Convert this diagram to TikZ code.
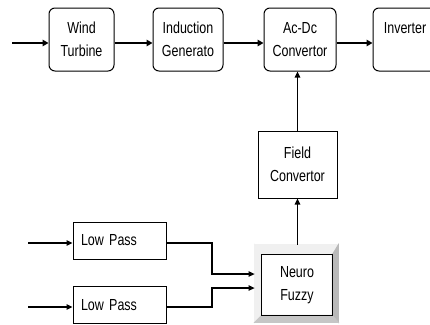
\documentclass[tikz,border=0pt]{standalone}
\usepackage{fontspec}
\setmainfont[FakeStretch=0.78]{Liberation Sans}
\usetikzlibrary{arrows.meta}
\begin{document}
\begin{tikzpicture}[x=1pt,y=-1pt,
  txt/.style={font=\fontsize{16}{23}\selectfont},
  rbox/.style={txt,draw,line width=1pt,rounded corners=6pt,align=center,inner sep=0pt},
  sbox/.style={txt,draw,line width=1pt,align=center,inner sep=0pt},
  thickarr/.style={line width=2.6pt,-{Triangle[length=6pt,width=6.5pt]}},
  midarr/.style={line width=1.8pt,-{Triangle[length=6pt,width=5.5pt]}},
  thinarr/.style={line width=1.2pt,-{Triangle[length=6pt,width=5.5pt]}},
  bevel/.style={draw,line width=0.8pt}]
\clip (0,0) rectangle (430,324);
% top row
\node[rbox,minimum width=65pt,minimum height=63pt] (wt) at (81.5,39.5) {Wind\\Turbine};
\node[rbox,minimum width=70pt,minimum height=63pt] (ig) at (188,39.5) {Induction\\Generato};
\node[rbox,minimum width=72pt,minimum height=63pt] (ad) at (300,39.5) {Ac-Dc\\Convertor};
\node[rbox,minimum width=64pt,minimum height=63pt] (inv) at (405,39.5) {Inverter\\\mbox{}};
\coordinate (in0) at (12,43);
\draw[thickarr] (in0) -- (in0 -| wt.west);
\draw[thickarr] (wt.east |- in0) -- (ig.west |- in0);
\draw[thickarr] (ig.east |- in0) -- (ad.west |- in0);
\draw[thickarr] (ad.east |- in0) -- (inv.west |- in0);
% field convertor
\node[sbox,minimum width=79pt,minimum height=67pt] (fc) at (297.5,164.5) {Field\\Convertor};
\draw[midarr] (fc.north) -- (fc.north |- ad.south);
% neuro fuzzy
\node[draw,line width=0.8pt,minimum width=83pt,minimum height=77pt,inner sep=0pt] (nfo) at (296.5,283.5) {};
\node[txt,align=center,minimum width=70pt,minimum height=60pt,inner sep=0pt] (nf) at (297,285) {Neuro\\Fuzzy};
\fill[gray!12,bevel] (nfo.north west) -- (nfo.north east) -- (nf.north east) -- (nf.north west) -- cycle;
\fill[gray!12,bevel] (nfo.north west) -- (nf.north west) -- (nf.south west) -- (nfo.south west) -- cycle;
\fill[gray!55,bevel] (nfo.north east) -- (nfo.south east) -- (nf.south east) -- (nf.north east) -- cycle;
\fill[gray!45,bevel] (nfo.south west) -- (nf.south west) -- (nf.south east) -- (nfo.south east) -- cycle;
\draw[line width=0.8pt] (nf.north west) rectangle (nf.south east);
\draw[midarr] (nfo.north -| fc.south) -- (fc.south);
% low pass filters
\node[sbox,minimum width=93pt,minimum height=37pt,text width=77pt,align=left] (lp1) at (119.5,240.5) {Low Pass};
\node[sbox,minimum width=93pt,minimum height=37pt,text width=77pt,align=left] (lp2) at (119.5,305) {Low Pass};
\coordinate (in1) at (28,243);
\coordinate (in2) at (28,307);
\draw[thinarr] (in1) -- (in1 -| lp1.west);
\draw[thinarr] (in2) -- (in2 -| lp2.west);
\coordinate (j1) at (212,274);
\coordinate (j2) at (212,288);
\draw[thinarr] (lp1.east |- in1) -| (j1) -- (j1 -| nfo.west);
\draw[thinarr] (lp2.east |- in2) -| (j2) -- (j2 -| nfo.west);
\end{tikzpicture}
\end{document}
